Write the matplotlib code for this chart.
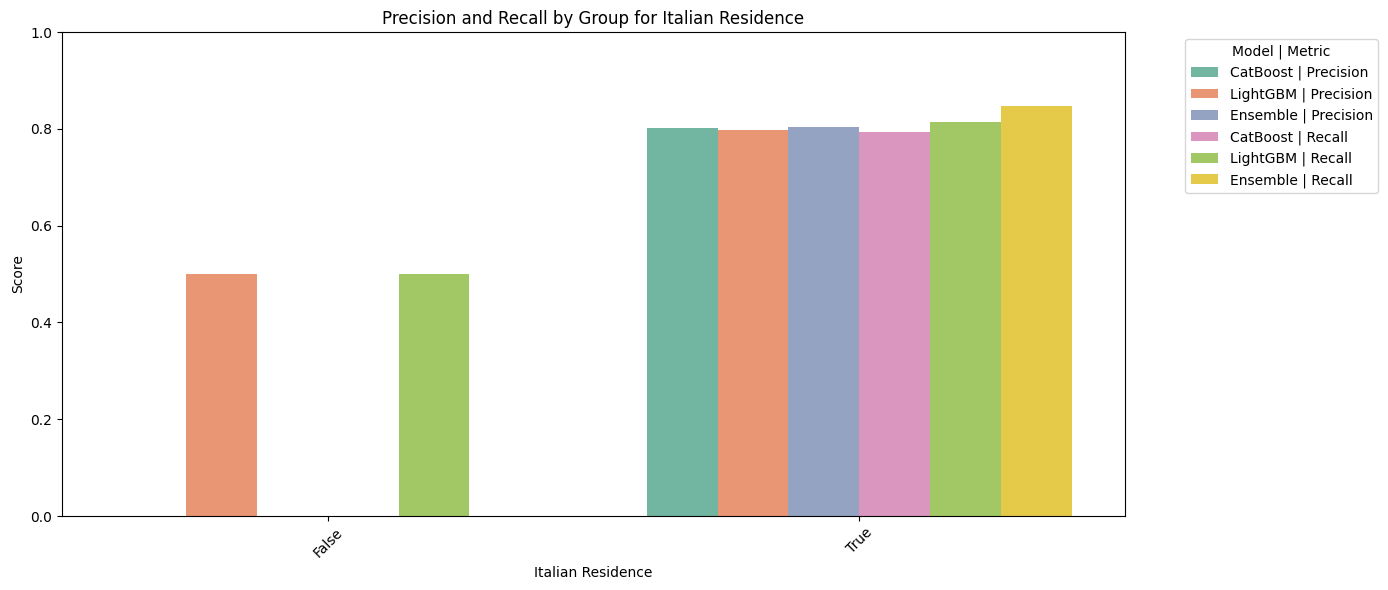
import matplotlib
matplotlib.use("Agg")
import matplotlib.pyplot as plt
import seaborn as sns
import pandas as pd

groups = ["False", "True"]
series = ["CatBoost | Precision", "LightGBM | Precision", "Ensemble | Precision",
          "CatBoost | Recall", "LightGBM | Recall", "Ensemble | Recall"]
false_vals = [0.0, 0.5, 0.0, 0.0, 0.5, 0.0]
true_vals = [0.802, 0.7975, 0.8035, 0.7935, 0.814, 0.847]

rows = []
for s, fv, tv in zip(series, false_vals, true_vals):
    rows.append({"Italian Residence": "False", "Model | Metric": s, "Score": fv})
    rows.append({"Italian Residence": "True", "Model | Metric": s, "Score": tv})
df = pd.DataFrame(rows)

fig, ax = plt.subplots(figsize=(13.88, 5.9), dpi=100)
sns.barplot(data=df, x="Italian Residence", y="Score", hue="Model | Metric",
            order=groups, hue_order=series, palette="Set2", ax=ax)
ax.set_ylim(0, 1)
ax.set_title("Precision and Recall by Group for Italian Residence")
ax.set_xlabel("Italian Residence")
ax.set_ylabel("Score")
plt.setp(ax.get_xticklabels(), rotation=45)
ax.legend(title="Model | Metric", bbox_to_anchor=(1.05, 1), loc="upper left")
fig.subplots_adjust(left=62/1388, right=1125/1388, top=1-32/590, bottom=1-516/590)
fig.savefig("out.png", dpi=100)
